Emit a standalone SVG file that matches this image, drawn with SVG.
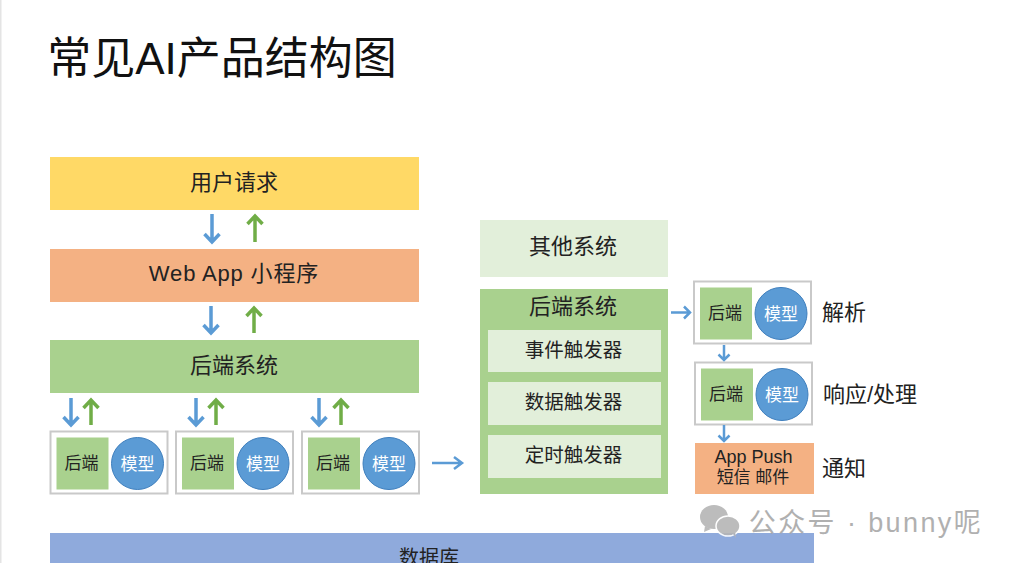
<svg xmlns="http://www.w3.org/2000/svg" width="1014" height="563" viewBox="0 0 1014 563">
<defs>
<style>
text{font-family:"Liberation Sans","Noto Sans CJK SC",sans-serif;text-anchor:middle;fill:#222}
.l{font-size:22px}
.s{font-size:19.500px}
.green{fill:#a9d18e}
.light{fill:#e2efda}
.trig{fill:#e2efda}
.box{fill:#fff;stroke:#c9c9c9;stroke-width:2}
.circ{fill:#5b9bd5;stroke:#3f7fbd;stroke-width:1}
.w{fill:#fff;font-size:17px}
.b{font-size:17px}
.blue{fill:none;stroke:#5b9bd5;stroke-width:3.500}
.gr{fill:none;stroke:#70ad47;stroke-width:3.500}
.thin{fill:none;stroke:#5b9bd5;stroke-width:2.500}
</style>
<g id="pair">
<rect class="box" x="0" y="0" width="117" height="62"/>
<rect class="green" x="6" y="6" width="52" height="52"/>
<circle class="circ" cx="87" cy="32" r="26"/>
<text class="b" x="31" y="37">后端</text>
<text class="w" x="87" y="38">模型</text>
</g>
</defs>
<rect width="1014" height="563" fill="#fff"/>
<rect width="1.5" height="563" fill="#e4e4e4"/>
<text x="222" y="74" style="font-size:44px;fill:#111">常见AI产品结构图</text>
<g id="n-user"><rect x="50" y="157" width="369" height="53" fill="#ffd966"/><text class="l" x="234" y="190">用户请求</text></g>
<g id="n-web"><rect x="50" y="249" width="369" height="53" fill="#f4b183"/><text class="l" x="234" y="281" style="letter-spacing:.85px">Web App 小程序</text></g>
<g id="n-backend"><rect class="green" x="50" y="340" width="369" height="53"/><text class="l" x="234" y="373">后端系统</text></g>
<g id="n-p1"><use href="#pair" x="50.500" y="431.500"/></g>
<g id="n-p2"><use href="#pair" x="176" y="431.500"/></g>
<g id="n-p3"><use href="#pair" x="302" y="431.500"/></g>
<g id="n-other"><rect class="light" x="480" y="220" width="188" height="57"/><text class="l" x="573" y="254">其他系统</text></g>
<g id="n-backend2"><rect class="green" x="480" y="289" width="188" height="205"/><text class="l" x="573" y="314">后端系统</text></g>
<g id="n-t1"><rect class="trig" x="488" y="330" width="173" height="42"/><text class="s" x="573.500" y="357">事件触发器</text></g>
<g id="n-t2"><rect class="trig" x="488" y="382" width="173" height="43"/><text class="s" x="573.500" y="409">数据触发器</text></g>
<g id="n-t3"><rect class="trig" x="488" y="435" width="173" height="43"/><text class="s" x="573.500" y="462">定时触发器</text></g>
<g id="n-r1"><use href="#pair" x="694" y="281.500"/></g>
<g id="n-r2"><use href="#pair" x="695" y="362.500"/></g>
<g id="n-push"><rect x="695" y="443" width="119" height="51" fill="#f4b183"/><text x="753.500" y="463" style="font-size:18px">App Push</text><text x="753" y="483" style="font-size:17px">短信 邮件</text></g>
<g id="n-db"><rect x="50" y="533" width="764" height="30" fill="#8faadc"/><text x="429" y="565" style="font-size:20px">数据库</text></g>
<text class="l" x="844" y="320">解析</text>
<text class="l" x="870" y="402">响应/处理</text>
<text class="l" x="844" y="476">通知</text>
<g id="connectors">
<path class="blue" d="M212 214V242M204.500 234L212 242L219.500 234"/>
<path class="gr" d="M255 242V216M247.500 224L255 216L262.500 224"/>
<path class="blue" d="M211 306V333M203.500 325L211 333L218.500 325"/>
<path class="gr" d="M254 333V308M246.500 316L254 308L261.500 316"/>
<path class="blue" d="M71 398V425M63.500 417L71 425L78.500 417"/>
<path class="gr" d="M91 425V400M83.500 408L91 400L98.500 408"/>
<path class="blue" d="M196 398V425M188.500 417L196 425L203.500 417"/>
<path class="gr" d="M216 425V400M208.500 408L216 400L223.500 408"/>
<path class="blue" d="M319 398V425M311.500 417L319 425L326.500 417"/>
<path class="gr" d="M341 425V400M333.500 408L341 400L348.500 408"/>
<path class="thin" d="M432 463H462M454 457L462 463L454 469"/>
<path class="thin" d="M671 312.500H690M684 306.500L690 312.500L684 318.500"/>
<path class="thin" d="M724 345V360M718.500 354.500L724 360L729.500 354.500"/>
<path class="thin" d="M724 425V441M718.500 435.500L724 441L729.500 435.500"/>
</g>
<g id="watermark" opacity="0.9">
<ellipse cx="714" cy="517" rx="14" ry="12" fill="#b5b5b5"/>
<path d="M705 526l-1 6 7-3z" fill="#b5b5b5"/>
<ellipse cx="728" cy="526" rx="12" ry="10" fill="#b5b5b5" stroke="#fff" stroke-width="1.500"/>
<path d="M733 534l3 4-1-6z" fill="#b5b5b5"/>
<text x="866" y="532" style="font-size:27px;fill:#a8a8a8;letter-spacing:2.400px">公众号 · bunny呢</text>
</g>
</svg>
